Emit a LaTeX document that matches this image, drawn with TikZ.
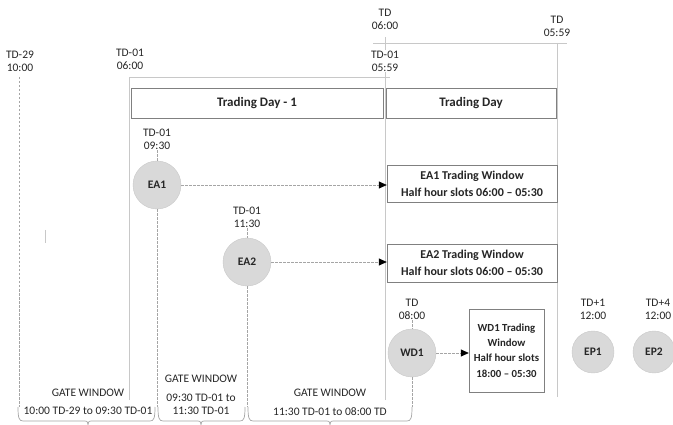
\documentclass[tikz,border=0pt]{standalone}
\usepackage{fontspec}
\setmainfont{Carlito}
\usepackage{tikz}
\usetikzlibrary{arrows.meta, positioning, calc}
\definecolor{gwline}{RGB}{200,200,200}
\definecolor{gwdash}{RGB}{165,165,165}
\definecolor{gwbox}{RGB}{128,128,128}
\definecolor{gwfill}{RGB}{217,217,217}
\definecolor{gwtext}{RGB}{38,38,38}

\begin{document}
\begin{tikzpicture}[
  x=1pt, y=-1pt,
  every node/.style={font=\fontsize{11.5}{13}\selectfont, text=gwtext},
  stamp/.style={align=center, fill=white, inner sep=1pt},
  dayhdr/.style={rectangle, draw=gwbox, fill=white, font=\bfseries\fontsize{13}{15}\selectfont,
                 minimum height=30, align=center},
  window/.style={rectangle, draw=gwbox, fill=white, font=\bfseries\fontsize{12}{17}\selectfont,
                 align=center, inner sep=2pt},
  event/.style={circle, draw=gwline, fill=gwfill, font=\bfseries\fontsize{11.5}{13}\selectfont,
                minimum size=48, inner sep=0pt},
  guide/.style={draw=gwline, line width=0.8pt},
  drop/.style={draw=gwdash, dashed, line width=0.7pt, dash pattern=on 2.5pt off 1.5pt},
  flow/.style={draw=gwdash, dashed, line width=0.7pt, dash pattern=on 2.5pt off 1.5pt,
               -{Triangle[length=8pt, width=7pt, fill=black, color=black]}},
  gwbrace/.style={draw=gwdash, line width=0.7pt},
]
\useasboundingbox (0,0) rectangle (673,425);

% Time guides
\draw[guide] (129,400) -- (129,77) -- (390,77);
\draw[guide] (385,400) -- (385,37);
\draw[guide] (373,43) -- (567,43);
\draw[guide] (557,43) -- (557,397);
\draw[drop] (19,77) -- (19,407);
\draw[guide] (45,230) -- (45,243);

% Time stamps
\node[stamp] (t29)  at (20,61)  {TD-29\\10:00};
\node[stamp] (t01a) at (130,59) {TD-01\\06:00};
\node[stamp] (td0)  at (385,19) {TD\\06:00};
\node[stamp] (td1)  at (557,26) {TD\\05:59};
\node[stamp] (t01b) at (385,61) {TD-01\\05:59};

% Trading days
\node[dayhdr, minimum width=252] (day1) at (257,103) {Trading Day - 1};
\node[dayhdr, minimum width=170] (day0) at (471,103) {Trading Day};

% Auctions
\node[event] (ea1) at (157,185) {EA1};
\node[event] (ea2) at (247,262) {EA2};
\node[event] (wd1) at (412,353) {WD1};
\node[event, minimum size=42] (ep1) at (593,352) {EP1};
\node[event, minimum size=42] (ep2) at (654,352) {EP2};

\node[stamp] (ea1t) at (157,139) {TD-01\\09:30};
\node[stamp] (ea2t) at (247,217) {TD-01\\11:30};
\node[stamp] (wd1t) at (412,309) {TD\\08:00};
\node[stamp] (ep1t) at (593,309) {TD+1\\12:00};
\node[stamp] (ep2t) at (658,309) {TD+4\\12:00};

% Trading windows
\node[window, minimum width=170, minimum height=37] (ea1w) at (472,183.5)
  {EA1 Trading Window\\Half hour slots 06:00 -- 05:30};
\node[window, minimum width=170, minimum height=38] (ea2w) at (472,263)
  {EA2 Trading Window\\Half hour slots 06:00 -- 05:30};
\node[window, minimum width=75, minimum height=83, font=\bfseries\fontsize{10.8}{15.3}\selectfont]
  (wd1w) at (506.5,350.5) {WD1 Trading\\Window\\Half hour slots\\18:00 -- 05:30};

% Flows
\draw[flow] (ea1) -- (ea1 -| ea1w.west);
\draw[flow] (ea2) -- (ea2 -| ea2w.west);
\draw[flow] (wd1) -- (wd1 -| wd1w.west);

\draw[drop] (ea1t) -- (ea1);
\draw[drop] (ea2t) -- (ea2);
\draw[drop] (wd1t) -- (wd1);

\coordinate (gw) at (0,407);
\draw[drop] (ea1) -- (ea1 |- gw);
\draw[drop] (ea2) -- (ea2 |- gw);
\draw[drop] (wd1) -- (wd1 |- gw);

% Gate windows
\newcommand{\gatebrace}[3]{%
  \draw[gwbrace] (#1,407) .. controls (#1,418) and (#1+1,421) .. (#1+5,421)
    -- (#2-3,421) .. controls (#2-1,421) .. (#2,424.5)
    .. controls (#2+1,421) .. (#2+3,421) -- (#3-5,421)
    .. controls (#3-1,421) and (#3,418) .. (#3,407);}
\gatebrace{18}{88}{155}
\gatebrace{158}{201}{245}
\gatebrace{248}{330}{412}

\node (gw1) at (88,393)  {GATE WINDOW};
\node (gw1t) at (88,411) {10:00 TD-29 to 09:30 TD-01};
\node (gw2) at (201,379) {GATE WINDOW};
\node[align=center] (gw2t) at (201,404.5) {09:30 TD-01 to\\11:30 TD-01};
\node (gw3) at (330,393) {GATE WINDOW};
\node (gw3t) at (330,412) {11:30 TD-01 to 08:00 TD};

\end{tikzpicture}
\end{document}
